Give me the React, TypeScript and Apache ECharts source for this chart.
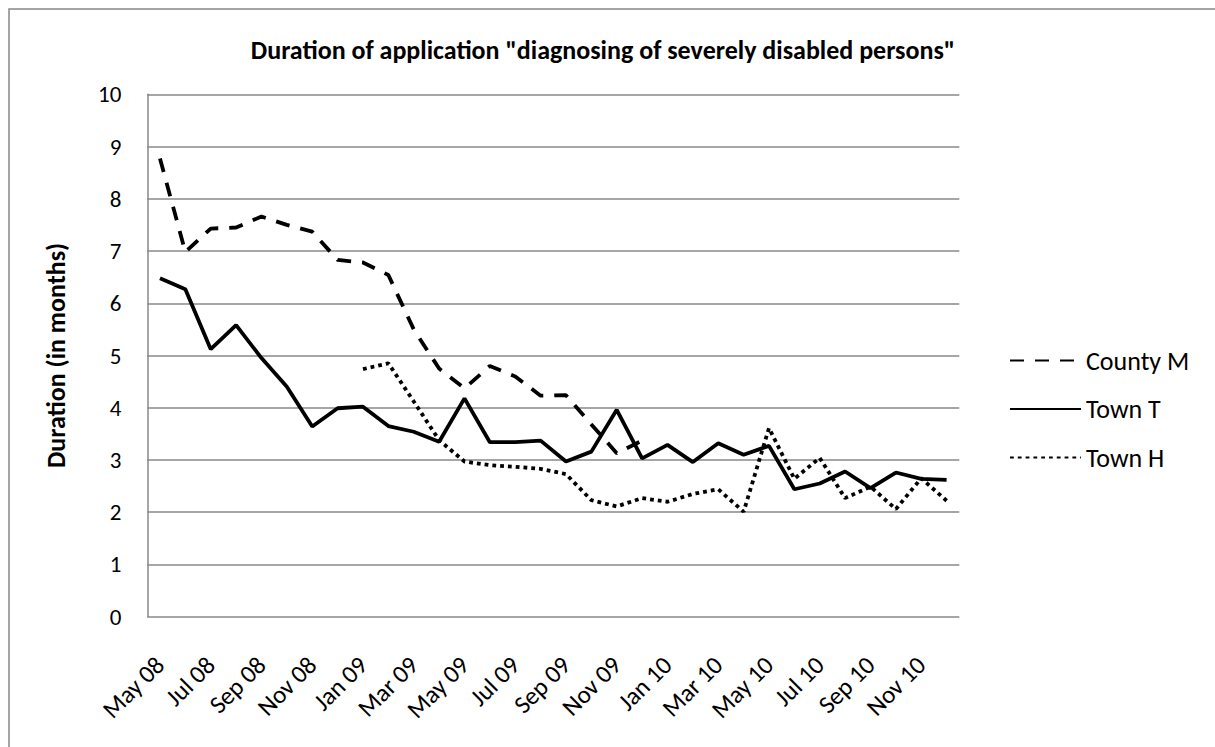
import React, { useEffect, useRef } from "react";
import * as echarts from "echarts";

const months = [
  "May 08", "Jun 08", "Jul 08", "Aug 08", "Sep 08", "Oct 08", "Nov 08", "Dec 08",
  "Jan 09", "Feb 09", "Mar 09", "Apr 09", "May 09", "Jun 09", "Jul 09", "Aug 09",
  "Sep 09", "Oct 09", "Nov 09", "Dec 09", "Jan 10", "Feb 10", "Mar 10", "Apr 10",
  "May 10", "Jun 10", "Jul 10", "Aug 10", "Sep 10", "Oct 10", "Nov 10", "Dec 10",
];

const countyM = [
  8.77, 6.98, 7.43, 7.45, 7.66, 7.5, 7.37, 6.83, 6.78, 6.54,
  5.5, 4.75, 4.37, 4.8, 4.6, 4.23, 4.24, 3.68, 3.13, 3.37,
  null, null, null, null, null, null, null, null, null, null, null, null,
];

const townT = [
  6.48, 6.27, 5.12, 5.58, 4.95, 4.4, 3.64, 3.99, 4.02, 3.65,
  3.54, 3.35, 4.18, 3.34, 3.34, 3.37, 2.97, 3.16, 3.96, 3.03,
  3.29, 2.96, 3.32, 3.1, 3.27, 2.44, 2.55, 2.78, 2.46, 2.76, 2.64, 2.62,
];

const townH = [
  null, null, null, null, null, null, null, null,
  4.74, 4.85, 4.12, 3.38, 2.97, 2.9, 2.87, 2.83,
  2.73, 2.23, 2.11, 2.27, 2.2, 2.35, 2.44, 2.01,
  3.61, 2.64, 3.04, 2.27, 2.49, 2.06, 2.65, 2.22,
];

const FONT = "Carlito, Calibri, Lato, sans-serif";

export default function App() {
  const ref = useRef<HTMLDivElement>(null);
  useEffect(() => {
    if (!ref.current) return;
    const chart = echarts.init(ref.current, null, { renderer: "svg" });
    chart.setOption({
      animation: false,
      backgroundColor: "#fff",
      textStyle: { fontFamily: FONT, color: "#000" },
      title: {
        text: 'Duration of application "diagnosing of severely disabled persons"',
        left: 598,
        top: 32,
        textAlign: "center",
        textStyle: { fontFamily: FONT, fontSize: 26, fontWeight: "bold", color: "#000" },
      },
      graphic: [
        {
          type: "rect",
          shape: { x: 9, y: 9, width: 1300, height: 900 },
          style: { fill: "none", stroke: "#888", lineWidth: 1.5 },
          silent: true,
          z: -1,
        },
      ],
      legend: {
        orient: "vertical",
        left: 1009,
        top: 347.5,
        padding: 0,
        itemWidth: 71,
        itemHeight: 26,
        itemGap: 22.5,
        itemStyle: { opacity: 0 },
        textStyle: { fontFamily: FONT, fontSize: 26, color: "#000" },
        data: ["County M", "Town T", "Town H"],
      },
      grid: { left: 147.3, right: 255.7, top: 94.3, bottom: 130.3, containLabel: false },
      xAxis: {
        type: "category",
        data: months,
        boundaryGap: true,
        axisLine: { show: false },
        axisTick: { show: false },
        axisLabel: {
          interval: 1,
          rotate: 45,
          margin: 44,
          verticalAlign: "middle",
          fontFamily: FONT,
          fontSize: 25,
          color: "#000",
        },
      },
      yAxis: {
        type: "value",
        min: 0,
        max: 10,
        interval: 1,
        name: "Duration (in months)",
        nameLocation: "middle",
        nameGap: 78,
        nameTextStyle: { fontFamily: FONT, fontSize: 26, fontWeight: "bold", color: "#000" },
        axisLine: { show: true, lineStyle: { color: "#888", width: 1.5 } },
        axisTick: { show: false },
        splitLine: { show: true, lineStyle: { color: "#888", width: 1.5 } },
        axisLabel: { margin: 26, fontFamily: FONT, fontSize: 23, color: "#000" },
      },
      series: [
        {
          name: "County M",
          type: "line",
          data: countyM,
          symbol: "none",
          connectNulls: false,
          lineStyle: { color: "#000", width: 3.8, type: [14, 11] },
          itemStyle: { color: "#000" },
        },
        {
          name: "Town T",
          type: "line",
          data: townT,
          symbol: "none",
          lineStyle: { color: "#000", width: 3.8, type: "solid" },
          itemStyle: { color: "#000" },
        },
        {
          name: "Town H",
          type: "line",
          data: townH,
          symbol: "none",
          lineStyle: { color: "#000", width: 3.8, type: [3.8, 4] },
          itemStyle: { color: "#000" },
        },
      ],
    });
    return () => chart.dispose();
  }, []);
  return (
    <div
      ref={ref}
      style={{ position: "fixed", left: 0, top: 0, width: 1215, height: 747 }}
    />
  );
}
